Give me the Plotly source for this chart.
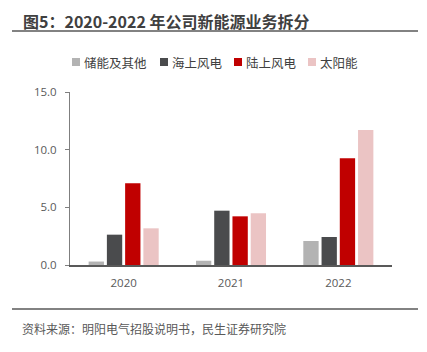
import plotly.graph_objects as go

years = ["2020", "2021", "2022"]
series_names = ["储能及其他", "海上风电", "陆上风电", "太阳能"]
storage = [0.3, 0.37, 2.08]
offshore = [2.63, 4.71, 2.43]
onshore = [7.08, 4.22, 9.25]
solar = [3.18, 4.48, 11.7]
colors = ["#b3b3b3", "#4a4b4d", "#c00000", "#ebc4c4"]
title_text = "图5：2020-2022 年公司新能源业务拆分"
source_text = "资料来源：明阳电气招股说明书，民生证券研究院"

W, H = 427, 352
L, R, T, B = 70, 35, 92, 87
pw, ph = W - L - R, H - T - B

def px(x):
    return (x - L) / pw

def py(y):
    return 1 - (y - T) / ph

fig = go.Figure()
for name, vals, c in zip(series_names, [storage, offshore, onshore, solar], colors):
    fig.add_trace(go.Bar(x=years, y=vals, name=name, marker=dict(color=c, line=dict(width=0))))

font_fam = "Open Sans, Noto Sans CJK SC, sans-serif"
fig.update_layout(
    width=W, height=H,
    margin=dict(l=L, r=R, t=T, b=B),
    plot_bgcolor="white", paper_bgcolor="white",
    barmode="group", bargap=0.32, bargroupgap=0.16,
    font=dict(family=font_fam, size=11, color="#595959"),
    showlegend=False,
    xaxis=dict(showline=True, linecolor="#595959", linewidth=1.5, ticks="",
               tickfont=dict(size=11.5, color="#595959"), showgrid=False,
               ticklabelstandoff=6),
    yaxis=dict(range=[0, 15], tickvals=[0, 5, 10, 15], ticktext=["0.0", "5.0", "10.0", "15.0"],
               showline=True, linecolor="#7f7f7f", linewidth=1, ticks="outside", ticklen=4,
               tickcolor="#7f7f7f", showgrid=False, zeroline=False,
               tickfont=dict(size=11.5, color="#595959"), ticklabelstandoff=6),
)

# manual legend
legend_x = [72, 160, 234, 308]
for name, c, lx in zip(series_names, colors, legend_x):
    fig.add_shape(type="rect", xref="paper", yref="paper",
                  x0=px(lx), x1=px(lx + 8), y0=py(58), y1=py(66),
                  fillcolor=c, line=dict(width=0))
    fig.add_annotation(text=name, xref="paper", yref="paper",
                       x=px(lx + 10), y=py(62), xanchor="left", yanchor="middle", showarrow=False,
                       font=dict(size=12.5, color="#404040", family="Noto Sans CJK SC"))

fig.add_annotation(text="<b>" + title_text + "</b>", xref="paper", yref="paper",
                   x=px(21), y=py(21), xanchor="left", yanchor="middle", showarrow=False,
                   font=dict(size=16, color="#404040", family="Noto Sans CJK SC"))
fig.add_annotation(text=source_text, xref="paper", yref="paper",
                   x=px(20), y=py(328), xanchor="left", yanchor="middle", showarrow=False,
                   font=dict(size=12, color="#595959", family="Noto Sans CJK SC"))
for yy in [31, 309]:
    fig.add_shape(type="line", xref="paper", yref="paper", x0=px(12), x1=px(418),
                  y0=py(yy), y1=py(yy), line=dict(color="#595959", width=1.5))

fig.write_html("out.html")
